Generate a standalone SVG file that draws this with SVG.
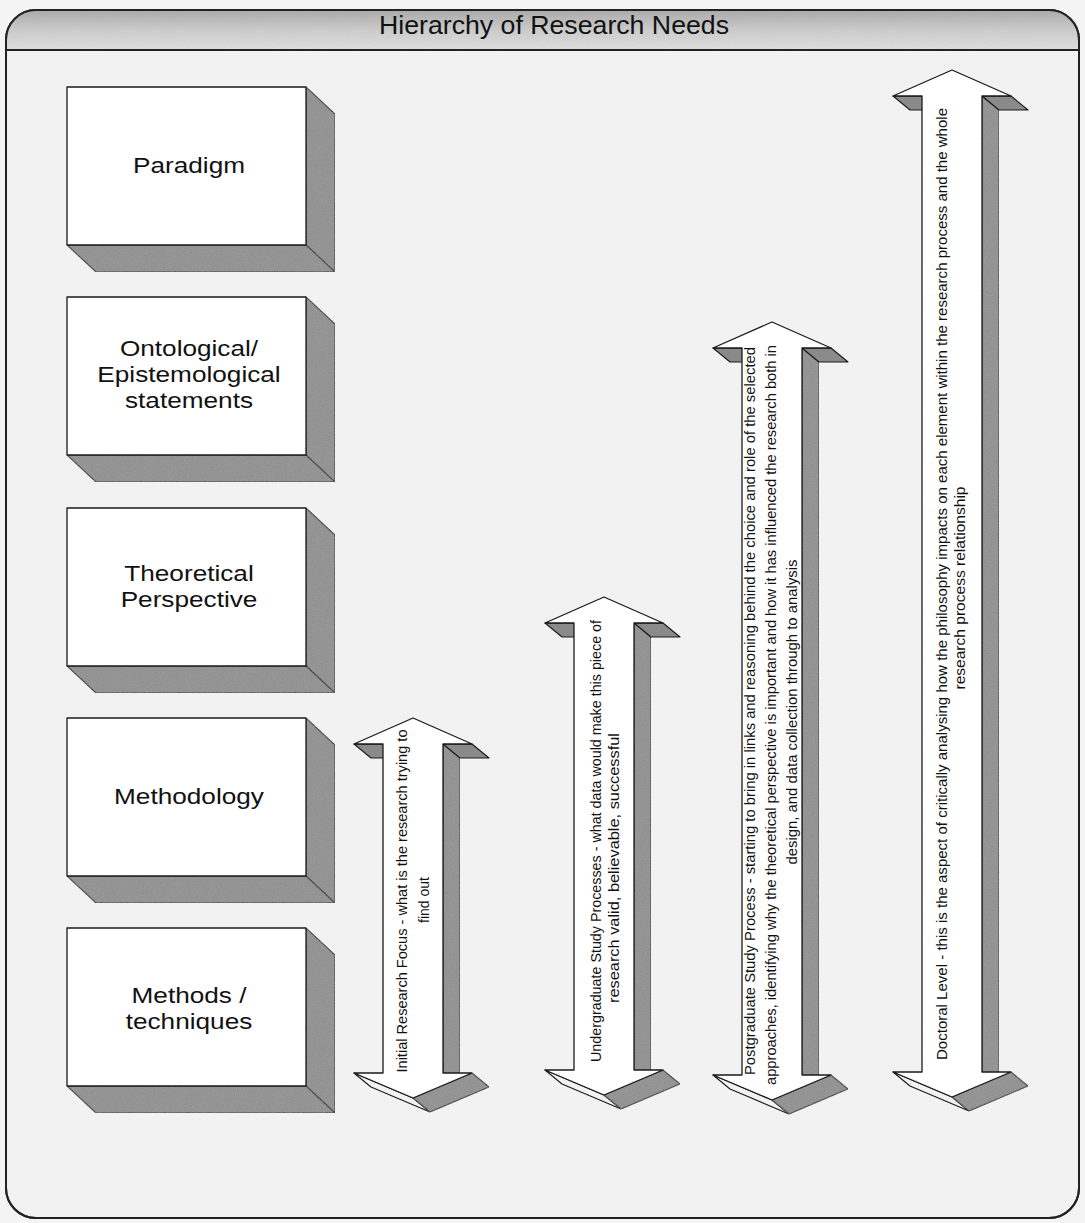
<svg xmlns="http://www.w3.org/2000/svg" width="1085" height="1223" viewBox="0 0 1085 1223">
  <defs>
    <linearGradient id="hdr" x1="0" y1="0" x2="0" y2="1">
      <stop offset="0" stop-color="#a8a8a8"/>
      <stop offset="0.5" stop-color="#cfcfcf"/>
      <stop offset="1" stop-color="#e4e4e4"/>
    </linearGradient>
    <filter id="grain" x="0" y="0" width="100%" height="100%">
      <feTurbulence type="fractalNoise" baseFrequency="0.9" numOctaves="2" seed="3" result="n"/>
      <feColorMatrix in="n" type="matrix" values="0 0 0 0 0.5  0 0 0 0 0.5  0 0 0 0 0.5  0 0 0 0.35 0" result="g"/>
      <feComposite in="g" in2="SourceGraphic" operator="in" result="gi"/>
      <feMerge><feMergeNode in="SourceGraphic"/><feMergeNode in="gi"/></feMerge>
    </filter>
  </defs>
  <style>
    .front { fill: #ffffff; stroke: #1a1a1a; stroke-width: 1.3; stroke-linejoin: round; }
    .side { fill: #8a8a8a; stroke: #1a1a1a; stroke-width: 1.1; stroke-linejoin: round; }
    .lite { fill: #f2f2f2; stroke: #1a1a1a; stroke-width: 1.1; stroke-linejoin: round; }
    .boxtxt { font-family: "Liberation Sans", Arial, sans-serif; font-size: 22px; fill: #111; text-anchor: middle; }
    .arrtxt { font-family: "Liberation Sans", Arial, sans-serif; font-size: 14px; fill: #111; text-anchor: middle; }
    .title { font-family: "Liberation Sans", Arial, sans-serif; font-size: 26px; fill: #111; text-anchor: middle; }
  </style>

  <rect x="0" y="0" width="1085" height="1223" fill="#f4f4f4"/>

  <g id="frame">
    <rect x="6" y="10" width="1073" height="1208" rx="30" ry="30" fill="#f2f2f2" stroke="#222" stroke-width="2"/>
    <path d="M7,50 V40 Q7,11 36,11 H1049 Q1078,11 1078,40 V50 Z" fill="url(#hdr)" filter="url(#grain)"/>
    <line x1="6" y1="50" x2="1079" y2="50" stroke="#222" stroke-width="2"/>
    <rect x="6" y="10" width="1073" height="1208" rx="30" ry="30" fill="none" stroke="#222" stroke-width="2"/>
    <text class="title" x="554" y="34" textLength="350" lengthAdjust="spacingAndGlyphs">Hierarchy of Research Needs</text>
  </g>

  <g id="box-paradigm">
    <polygon class="side" points="306,87 335,114 335,272 306,245" filter="url(#grain)"/>
    <polygon class="side" points="67,245 306,245 335,272 96,272" filter="url(#grain)"/>
    <rect class="front" x="67" y="87" width="239" height="158"/>
    <g transform="translate(189,0) scale(1.19,1)">
      <text class="boxtxt" x="0" y="173">Paradigm</text>
    </g>
  </g>

  <g id="box-ontological">
    <polygon class="side" points="306,297 335,324 335,482 306,455" filter="url(#grain)"/>
    <polygon class="side" points="67,455 306,455 335,482 96,482" filter="url(#grain)"/>
    <rect class="front" x="67" y="297" width="239" height="158"/>
    <g transform="translate(189,0) scale(1.19,1)">
      <text class="boxtxt" x="0" y="356">Ontological/</text>
      <text class="boxtxt" x="0" y="382">Epistemological</text>
      <text class="boxtxt" x="0" y="408">statements</text>
    </g>
  </g>

  <g id="box-theoretical">
    <polygon class="side" points="306,508 335,535 335,693 306,666" filter="url(#grain)"/>
    <polygon class="side" points="67,666 306,666 335,693 96,693" filter="url(#grain)"/>
    <rect class="front" x="67" y="508" width="239" height="158"/>
    <g transform="translate(189,0) scale(1.19,1)">
      <text class="boxtxt" x="0" y="581">Theoretical</text>
      <text class="boxtxt" x="0" y="607">Perspective</text>
    </g>
  </g>

  <g id="box-methodology">
    <polygon class="side" points="306,718 335,745 335,903 306,876" filter="url(#grain)"/>
    <polygon class="side" points="67,876 306,876 335,903 96,903" filter="url(#grain)"/>
    <rect class="front" x="67" y="718" width="239" height="158"/>
    <g transform="translate(189,0) scale(1.19,1)">
      <text class="boxtxt" x="0" y="804">Methodology</text>
    </g>
  </g>

  <g id="box-methods">
    <polygon class="side" points="306,928 335,955 335,1113 306,1086" filter="url(#grain)"/>
    <polygon class="side" points="67,1086 306,1086 335,1113 96,1113" filter="url(#grain)"/>
    <rect class="front" x="67" y="928" width="239" height="158"/>
    <g transform="translate(189,0) scale(1.19,1)">
      <text class="boxtxt" x="0" y="1003">Methods /</text>
      <text class="boxtxt" x="0" y="1029">techniques</text>
    </g>
  </g>

  <g id="connectors">
    <g id="arrow-initial">
      <polygon class="side" points="443,744 460,758 460,1087 443,1073" filter="url(#grain)"/>
      <polygon class="side" points="354,744 383,744 400,758 371,758"/>
      <polygon class="side" points="443,744 472,744 489,758 460,758"/>
      <polygon class="lite" points="354,1073 413,1098 430,1112 371,1087"/>
      <polygon class="side" points="413,1098 472,1073 489,1087 430,1112" filter="url(#grain)"/>
      <polygon class="front" points="413,718 472,744 443,744 443,1073 472,1073 413,1098 354,1073 383,1073 383,744 354,744"/>
      <text class="arrtxt" transform="translate(407,901) rotate(-90)" textLength="343" lengthAdjust="spacingAndGlyphs">Initial Research Focus - what is the research trying to</text>
      <text class="arrtxt" transform="translate(429,900) rotate(-90)">find out</text>
    </g>
    <g id="arrow-undergraduate">
      <polygon class="side" points="634,623 651,637 651,1084 634,1070" filter="url(#grain)"/>
      <polygon class="side" points="545,623 574,623 591,637 562,637"/>
      <polygon class="side" points="634,623 663,623 680,637 651,637"/>
      <polygon class="lite" points="545,1070 604,1095 621,1109 562,1084"/>
      <polygon class="side" points="604,1095 663,1070 680,1084 621,1109" filter="url(#grain)"/>
      <polygon class="front" points="604,597 663,623 634,623 634,1070 663,1070 604,1095 545,1070 574,1070 574,623 545,623"/>
      <text class="arrtxt" transform="translate(601,841) rotate(-90)" textLength="442" lengthAdjust="spacingAndGlyphs">Undergraduate Study Processes - what data would make this piece of</text>
      <text class="arrtxt" transform="translate(619,868) rotate(-90)" textLength="270" lengthAdjust="spacingAndGlyphs">research valid, believable, successful</text>
    </g>
    <g id="arrow-postgraduate">
      <polygon class="side" points="802,348 819,362 819,1089 802,1075" filter="url(#grain)"/>
      <polygon class="side" points="713,348 742,348 759,362 730,362"/>
      <polygon class="side" points="802,348 831,348 848,362 819,362"/>
      <polygon class="lite" points="713,1075 772,1100 789,1114 730,1089"/>
      <polygon class="side" points="772,1100 831,1075 848,1089 789,1114" filter="url(#grain)"/>
      <polygon class="front" points="772,322 831,348 802,348 802,1075 831,1075 772,1100 713,1075 742,1075 742,348 713,348"/>
      <text class="arrtxt" transform="translate(755,711) rotate(-90)" textLength="728" lengthAdjust="spacingAndGlyphs">Postgraduate Study Process - starting to bring in links and reasoning behind the choice and role of the selected</text>
      <text class="arrtxt" transform="translate(776,715) rotate(-90)" textLength="740" lengthAdjust="spacingAndGlyphs">approaches, identifying why the theoretical perspective is important and how it has influenced the research both in</text>
      <text class="arrtxt" transform="translate(797,712) rotate(-90)" textLength="305" lengthAdjust="spacingAndGlyphs">design, and data collection through to analysis</text>
    </g>
    <g id="arrow-doctoral">
      <polygon class="side" points="982,96 999,110 999,1086 982,1072" filter="url(#grain)"/>
      <polygon class="side" points="893,96 922,96 939,110 910,110"/>
      <polygon class="side" points="982,96 1011,96 1028,110 999,110"/>
      <polygon class="lite" points="893,1072 952,1097 969,1111 910,1086"/>
      <polygon class="side" points="952,1097 1011,1072 1028,1086 969,1111" filter="url(#grain)"/>
      <polygon class="front" points="952,70 1011,96 982,96 982,1072 1011,1072 952,1097 893,1072 922,1072 922,96 893,96"/>
      <text class="arrtxt" transform="translate(947,584) rotate(-90)" textLength="952" lengthAdjust="spacingAndGlyphs">Doctoral Level - this is the aspect of critically analysing how the philosophy impacts on each element within the research process and the whole</text>
      <text class="arrtxt" transform="translate(965,588) rotate(-90)" textLength="203" lengthAdjust="spacingAndGlyphs">research process relationship</text>
    </g>
  </g>
</svg>
